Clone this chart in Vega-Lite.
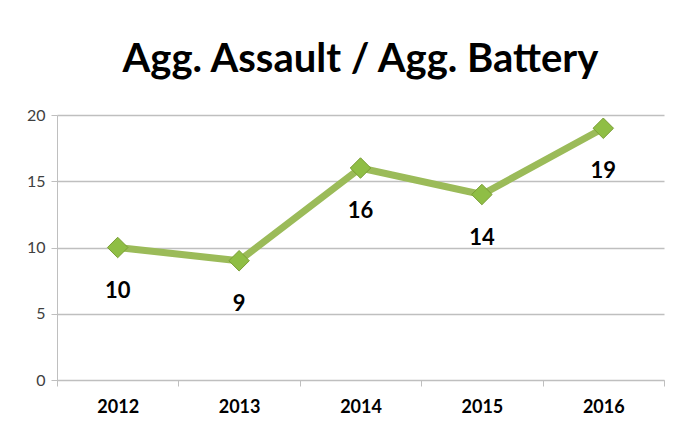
{
  "$schema": "https://vega.github.io/schema/vega-lite/v6.json",
  "autosize": {"type": "none"},
  "width": 607,
  "height": 265,
  "padding": {"left": 57, "top": 115, "right": 18, "bottom": 59},
  "background": "white",
  "title": {
    "text": "Agg. Assault / Agg. Battery",
    "font": "Lato",
    "fontSize": 40,
    "fontWeight": "bold",
    "color": "#000000",
    "anchor": "middle",
    "offset": 27
  },
  "data": {
    "values": [
      {"year": "2012", "count": 10},
      {"year": "2013", "count": 9},
      {"year": "2014", "count": 16},
      {"year": "2015", "count": 14},
      {"year": "2016", "count": 19}
    ]
  },
  "encoding": {
    "x": {
      "field": "year",
      "type": "ordinal",
      "scale": {"paddingInner": 0, "paddingOuter": 0},
      "axis": {
        "title": null,
        "labelAngle": 0,
        "labelFont": "Lato",
        "labelFontSize": 18,
        "labelFontWeight": "bold",
        "labelColor": "#000000",
        "labelPadding": 12,
        "domainColor": "#BFBFBF",
        "tickColor": "#BFBFBF",
        "tickBand": "extent",
        "tickSize": 6,
        "grid": false
      }
    },
    "y": {
      "field": "count",
      "type": "quantitative",
      "scale": {"domain": [0, 20], "nice": false},
      "axis": {
        "title": null,
        "values": [0, 5, 10, 15, 20],
        "labelFont": "Lato",
        "labelFontSize": 16,
        "labelColor": "#404040",
        "labelPadding": 6,
        "domainColor": "#BFBFBF",
        "tickColor": "#BFBFBF",
        "tickSize": 6,
        "gridColor": "#BFBFBF",
        "gridWidth": 1.5
      }
    }
  },
  "layer": [
    {
      "mark": {"type": "line", "color": "#9BBB59", "strokeWidth": 7, "strokeJoin": "miter"}
    },
    {
      "mark": {"type": "point", "shape": "diamond", "filled": true, "size": 420, "color": "#8FBE45", "stroke": "#7A9E35", "strokeWidth": 1, "opacity": 1}
    },
    {
      "mark": {"type": "text", "dy": 43, "font": "Lato", "fontSize": 22, "fontWeight": "bold", "color": "#000000"},
      "encoding": {"text": {"field": "count", "type": "quantitative"}}
    }
  ],
  "config": {"view": {"stroke": null}}
}
